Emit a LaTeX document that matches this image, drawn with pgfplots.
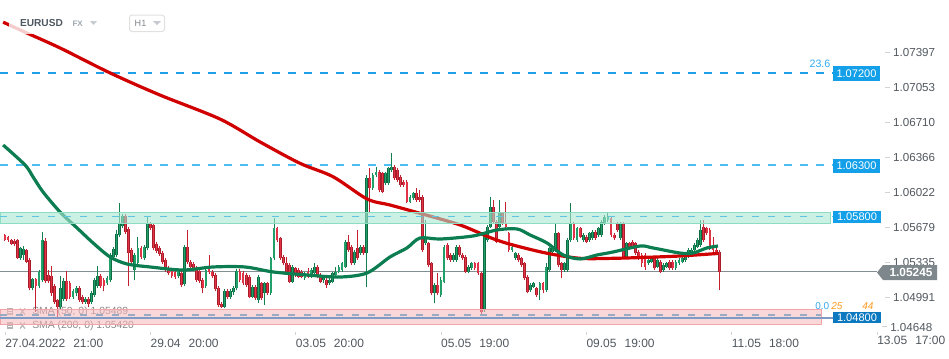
\documentclass[border=0pt]{standalone}
\usepackage{pgfplots}
\pgfplotsset{compat=1.18}
\usepackage{pgfplotstable}
\usepackage{fontspec}
\setmainfont{Liberation Sans}

\definecolor{gwick}{HTML}{12804F}
\definecolor{gedge}{HTML}{0E6B43}
\definecolor{gbody}{HTML}{22A06A}
\definecolor{rwick}{HTML}{C4202F}
\definecolor{redge}{HTML}{A91C2A}
\definecolor{rbody}{HTML}{E23446}
\definecolor{smared}{HTML}{D00000}
\definecolor{smagreen}{HTML}{0B7D50}
\definecolor{lvlblue}{HTML}{1EA0E8}
\definecolor{lvllight}{HTML}{4DBEF2}
\definecolor{tealfill}{HTML}{A8E8D2}
\definecolor{tealedge}{HTML}{8EDCC2}
\definecolor{tealdash}{HTML}{5EC6E4}
\definecolor{pinkfill}{HTML}{F6B8BA}
\definecolor{pinkedge}{HTML}{F2A4A6}
\definecolor{pinkdash}{HTML}{98AAC4}
\definecolor{pinkline}{HTML}{7D9BC4}
\definecolor{pricegray}{HTML}{838E93}
\definecolor{boxblue}{HTML}{14A0E8}
\definecolor{boxdark}{HTML}{0B78BF}
\definecolor{boxgray}{HTML}{7D878C}
\definecolor{labelgray}{HTML}{50575E}
\definecolor{tickgray}{HTML}{D0D4D7}
\definecolor{legendgray}{HTML}{888888}
\definecolor{icongray}{HTML}{B4B4B4}
\definecolor{headgray}{HTML}{4F5961}
\definecolor{fxgray}{HTML}{9FA9B1}
\definecolor{trigray}{HTML}{C5CBD0}
\definecolor{fiborange}{HTML}{FF9A1F}
\definecolor{fibblue}{HTML}{33AAF0}

\newcommand\tk{\textcolor{tickgray}{\rule[2.9pt]{3.75pt}{0.6pt}}\hspace{2.25pt}}

% i open high low close  (bullish candles)
\pgfplotstableread{
i o h l c
5 1.0538 1.0549 1.0536 1.0548
6 1.0541 1.0550 1.0536 1.0547
9 1.0508 1.0518 1.0506 1.0517
11 1.0510 1.0526 1.0508 1.0524
12 1.0516 1.0564 1.0514 1.0556
18 1.0490 1.0520 1.0487 1.0508
19 1.0498 1.0518 1.0496 1.0515
22 1.0500 1.0507 1.0498 1.0505
23 1.0503 1.0510 1.0501 1.0508
26 1.0495 1.0500 1.0493 1.0498
28 1.0495 1.0505 1.0493 1.0503
29 1.0502 1.0518 1.0500 1.0516
30 1.0510 1.0530 1.0508 1.0520
33 1.0513 1.0520 1.0511 1.0518
34 1.0516 1.0543 1.0514 1.0541
35 1.0539 1.0549 1.0537 1.0547
36 1.0541 1.0565 1.0539 1.0562
37 1.0561 1.0592 1.0559 1.0571
38 1.0569 1.0581 1.0567 1.0579
42 1.0526 1.0543 1.0516 1.0541
43 1.0533 1.0559 1.0531 1.0548
45 1.0538 1.0551 1.0536 1.0549
46 1.0548 1.0579 1.0546 1.0571
56 1.0520 1.0527 1.0518 1.0525
58 1.0512 1.0551 1.0510 1.0549
65 1.0510 1.0528 1.0508 1.0526
71 1.0490 1.0507 1.0489 1.0505
73 1.0500 1.0507 1.0498 1.0505
74 1.0504 1.0510 1.0502 1.0508
75 1.0508 1.0527 1.0506 1.0525
80 1.04999 1.05114 1.04983 1.05097
82 1.04966 1.05212 1.04933 1.05196
84 1.05032 1.05147 1.04917 1.05130
86 1.05032 1.05392 1.05015 1.05376
87 1.05376 1.05770 1.05360 1.05671
93 1.05147 1.05310 1.05130 1.05294
97 1.05179 1.05245 1.05163 1.05229
99 1.05196 1.05278 1.05179 1.05261
100 1.05229 1.05327 1.05212 1.05294
103 1.05163 1.05212 1.05130 1.05196
105 1.05130 1.05179 1.05114 1.05163
106 1.05147 1.05245 1.05130 1.05229
107 1.05212 1.05294 1.05196 1.05245
108 1.05245 1.05310 1.05229 1.05294
109 1.05261 1.05343 1.05245 1.05327
110 1.05294 1.05556 1.05278 1.05540
113 1.05327 1.05458 1.05310 1.05442
115 1.05425 1.05507 1.05409 1.05491
117 1.05425 1.06196 1.05097 1.06163
119 1.06065 1.06213 1.06049 1.06196
120 1.06196 1.06278 1.06180 1.06229
123 1.06114 1.06229 1.06098 1.06213
124 1.06114 1.06278 1.06098 1.06262
125 1.06245 1.06409 1.06229 1.06278
131 1.05934 1.06000 1.05917 1.05983
132 1.05967 1.06032 1.05950 1.06016
136 1.05524 1.05753 1.05507 1.05589
139 1.05032 1.05130 1.04933 1.05114
141 1.05015 1.05196 1.04999 1.05163
142 1.05147 1.05507 1.05130 1.05491
145 1.05360 1.05425 1.05343 1.05409
146 1.05360 1.05507 1.05343 1.05491
150 1.05245 1.05310 1.05229 1.05294
151 1.05278 1.05343 1.05261 1.05327
155 1.04868 1.05622 1.04851 1.05606
156 1.05556 1.05704 1.05540 1.05688
157 1.05688 1.05983 1.05671 1.05885
160 1.05688 1.05950 1.05671 1.05819
164 1.05458 1.05524 1.05442 1.05491
165 1.05376 1.05442 1.05360 1.05425
170 1.05065 1.05130 1.05048 1.05114
171 1.05097 1.05147 1.05081 1.05130
173 1.05065 1.05147 1.04966 1.05130
175 1.05065 1.05327 1.05048 1.05294
176 1.05261 1.05491 1.05245 1.05474
177 1.05442 1.05491 1.05425 1.05474
178 1.05458 1.05721 1.05442 1.05622
181 1.05261 1.05343 1.05245 1.05327
182 1.05261 1.05573 1.05245 1.05556
183 1.05556 1.05917 1.05540 1.05721
185 1.05556 1.05688 1.05540 1.05671
187 1.05556 1.05622 1.05540 1.05606
189 1.05556 1.05638 1.05540 1.05622
190 1.05573 1.05655 1.05556 1.05638
192 1.05606 1.05688 1.05589 1.05671
193 1.05606 1.05753 1.05589 1.05737
194 1.05721 1.05802 1.05704 1.05786
195 1.05753 1.05835 1.05737 1.05786
199 1.05573 1.05737 1.05556 1.05721
201 1.05392 1.05540 1.05376 1.05524
208 1.05327 1.05376 1.05310 1.05360
209 1.05343 1.05392 1.05327 1.05376
211 1.05294 1.05376 1.05278 1.05360
213 1.05261 1.05327 1.05245 1.05310
214 1.05294 1.05343 1.05278 1.05327
217 1.05278 1.05360 1.05261 1.05343
218 1.05327 1.05376 1.05310 1.05360
219 1.05343 1.05392 1.05327 1.05376
220 1.05360 1.05425 1.05343 1.05409
221 1.05392 1.05474 1.05376 1.05458
222 1.05425 1.05474 1.05409 1.05458
223 1.05458 1.05524 1.05442 1.05507
224 1.05491 1.05573 1.05474 1.05556
225 1.05507 1.05753 1.05491 1.05655
}\greentab

% i open high low close  (bearish candles)
\pgfplotstableread{
i o h l c
0 1.0561 1.0562 1.0555 1.0556
1 1.0559 1.0560 1.0554 1.0556
2 1.0556 1.0557 1.0551 1.0552
3 1.0555 1.0557 1.0550 1.0552
4 1.0556 1.0557 1.0537 1.0538
7 1.0546 1.0547 1.0533 1.0534
8 1.0536 1.0538 1.0506 1.0508
10 1.0517 1.0518 1.0485 1.0510
13 1.0555 1.0558 1.0513 1.0515
14 1.0521 1.0526 1.0513 1.0515
15 1.0520 1.0530 1.0501 1.0503
16 1.0510 1.0512 1.0493 1.0495
17 1.0497 1.0498 1.0479 1.0490
20 1.0515 1.0525 1.0496 1.0498
21 1.0513 1.0515 1.0498 1.0500
24 1.0508 1.0510 1.0495 1.0497
25 1.0500 1.0502 1.0493 1.0495
27 1.0498 1.0500 1.0490 1.0493
31 1.0520 1.0522 1.0508 1.0510
32 1.0516 1.0518 1.0505 1.0510
39 1.0579 1.0581 1.0562 1.0564
40 1.0566 1.0568 1.0510 1.0543
41 1.0546 1.0548 1.0532 1.0534
44 1.0548 1.0550 1.0537 1.0539
47 1.0571 1.0573 1.0565 1.0567
48 1.0570 1.0572 1.0546 1.0548
49 1.0552 1.0554 1.0543 1.0545
50 1.0548 1.0550 1.0540 1.0542
51 1.0543 1.0545 1.0532 1.0534
52 1.0536 1.0538 1.0524 1.0526
53 1.0528 1.0530 1.0521 1.0523
54 1.0525 1.0527 1.0518 1.0520
55 1.0524 1.0526 1.0517 1.0519
57 1.0523 1.0525 1.0509 1.0511
59 1.0549 1.0565 1.0532 1.0534
60 1.0534 1.0536 1.0527 1.0529
61 1.0532 1.0534 1.0525 1.0527
62 1.0528 1.0530 1.0514 1.0516
63 1.0525 1.0527 1.0513 1.0515
64 1.0516 1.0518 1.0503 1.0508
66 1.0527 1.0541 1.0522 1.0524
67 1.0524 1.0526 1.0518 1.0520
68 1.0521 1.0523 1.0505 1.0507
69 1.0508 1.0510 1.0490 1.0492
70 1.0493 1.0495 1.0489 1.0490
72 1.0505 1.0507 1.0498 1.0500
76 1.0525 1.0527 1.0514 1.0516
77 1.0523 1.0525 1.0511 1.0513
78 1.05212 1.05229 1.05097 1.05114
79 1.05196 1.05212 1.04983 1.04999
81 1.05097 1.05114 1.04966 1.04983
83 1.05130 1.05147 1.04966 1.04983
85 1.05130 1.05147 1.05015 1.05032
88 1.05671 1.05688 1.05540 1.05556
89 1.05573 1.05589 1.05360 1.05376
90 1.05392 1.05409 1.05310 1.05327
91 1.05327 1.05392 1.05229 1.05245
92 1.05310 1.05327 1.05130 1.05147
94 1.05278 1.05294 1.05196 1.05212
95 1.05261 1.05278 1.05179 1.05196
96 1.05245 1.05261 1.05179 1.05196
98 1.05245 1.05278 1.05179 1.05196
101 1.05294 1.05310 1.05179 1.05196
102 1.05212 1.05229 1.05130 1.05147
104 1.05163 1.05179 1.05081 1.05114
111 1.05540 1.05606 1.05442 1.05458
112 1.05491 1.05507 1.05310 1.05327
114 1.05474 1.05655 1.05360 1.05376
116 1.05491 1.05507 1.05409 1.05425
118 1.06163 1.06262 1.05819 1.06065
121 1.06229 1.06245 1.06032 1.06049
122 1.06213 1.06229 1.06016 1.06032
126 1.06278 1.06295 1.06147 1.06163
127 1.06245 1.06262 1.06131 1.06147
128 1.06180 1.06196 1.06082 1.06098
129 1.06131 1.06147 1.06082 1.06098
130 1.06131 1.06147 1.05917 1.05934
133 1.06016 1.06065 1.05934 1.05950
134 1.05983 1.06049 1.05934 1.05950
135 1.05983 1.06000 1.05442 1.05458
137 1.05524 1.05540 1.05294 1.05310
138 1.05327 1.05343 1.05015 1.05032
140 1.05114 1.05229 1.05015 1.05032
143 1.05507 1.05524 1.05360 1.05376
144 1.05409 1.05425 1.05343 1.05360
147 1.05491 1.05507 1.05392 1.05409
148 1.05409 1.05425 1.05360 1.05376
149 1.05392 1.05409 1.05229 1.05245
152 1.05327 1.05343 1.05261 1.05278
153 1.05327 1.05343 1.05212 1.05229
154 1.05229 1.05245 1.04819 1.04851
158 1.05885 1.05950 1.05721 1.05737
159 1.05737 1.05753 1.05524 1.05540
161 1.05819 1.05835 1.05704 1.05721
162 1.05721 1.05934 1.05671 1.05688
163 1.05622 1.05638 1.05442 1.05458
166 1.05409 1.05425 1.05343 1.05360
167 1.05376 1.05392 1.05294 1.05310
168 1.05327 1.05343 1.05163 1.05179
169 1.05196 1.05212 1.05032 1.05048
172 1.05081 1.05097 1.04999 1.05015
174 1.05130 1.05147 1.05032 1.05065
179 1.05622 1.05638 1.05294 1.05310
180 1.05327 1.05343 1.05179 1.05261
184 1.05721 1.05737 1.05556 1.05573
186 1.05671 1.05688 1.05573 1.05589
188 1.05589 1.05606 1.05524 1.05540
191 1.05638 1.05655 1.05556 1.05573
196 1.05770 1.05786 1.05589 1.05606
197 1.05606 1.05622 1.05556 1.05573
198 1.05721 1.05737 1.05638 1.05655
200 1.05721 1.05737 1.05376 1.05392
202 1.05524 1.05540 1.05474 1.05491
203 1.05540 1.05556 1.05474 1.05491
204 1.05524 1.05540 1.05409 1.05425
205 1.05442 1.05458 1.05360 1.05376
206 1.05409 1.05425 1.05294 1.05327
207 1.05409 1.05425 1.05261 1.05294
210 1.05376 1.05392 1.05261 1.05278
212 1.05343 1.05360 1.05229 1.05245
215 1.05343 1.05360 1.05261 1.05278
216 1.05343 1.05360 1.05261 1.05278
226 1.05688 1.05753 1.05540 1.05556
227 1.05671 1.05688 1.05606 1.05622
228 1.05655 1.05671 1.05458 1.05474
229 1.05474 1.05589 1.05442 1.05458
230 1.05458 1.05474 1.05425 1.05442
231 1.05442 1.05458 1.05065 1.05245
}\redtab

\begin{document}
\begin{tikzpicture}
\useasboundingbox (0,0) rectangle (711.75pt,-268.5pt);
% legend texts (drawn below the zones)
\begin{scope}[x=0.75pt,y=-0.75pt]
\fill[icongray] (7,308) rectangle (13,315);
\draw[white,line width=0.4pt] (8,310.3)--(12,310.3) (8,312.6)--(12,312.6);
\draw[icongray,line width=0.9pt] (20,308.5)--(25,314.5) (20,314.5)--(25,308.5);
\node[anchor=west,inner sep=0pt,font=\fontsize{7.8}{9}\selectfont,text=legendgray] at (32,312) {SMA (50, 0) 1.05489};
\fill[icongray] (7,322) rectangle (13,329);
\draw[white,line width=0.4pt] (8,324.3)--(12,324.3) (8,326.6)--(12,326.6);
\draw[icongray,line width=0.9pt] (20,322.5)--(25,328.5) (20,328.5)--(25,322.5);
\node[anchor=west,inner sep=0pt,font=\fontsize{7.8}{9}\selectfont,text=legendgray] at (32,326) {SMA (200, 0) 1.05420};
\end{scope}
\begin{axis}[
  at={(0,0)}, anchor=north west,
  scale only axis, width=622.5pt, height=249pt,
  xmin=-1.617, xmax=266.82, ymin=1.04651, ymax=1.07918,
  clip=false,
  axis line style={draw=none},
  scaled x ticks=false, scaled y ticks=false,
  xtick={0,47,94,141,188,235},
  xticklabels={{27.04.2022\hspace{6pt}21:00},{29.04\hspace{6pt}20:00},{03.05\hspace{6pt}20:00},{05.05\hspace{6pt}19:00},{09.05\hspace{6pt}19:00},{11.05\hspace{6pt}18:00}},
  xtick pos=bottom,
  tick align=outside,
  major tick length=2.2pt,
  xtick style={draw=tickgray, line width=0.6pt},
  xticklabel style={anchor=north west, inner sep=0pt, yshift=-2.6pt, font=\fontsize{9}{10}\selectfont, text=labelgray},
  ytick={1.07397,1.07053,1.06710,1.06366,1.06022,1.05679,1.05335,1.04991},
  yticklabels={{\tk 1.07397},{\tk 1.07053},{\tk 1.06710},{\tk 1.06366},{\tk 1.06022},{\tk 1.05679},{\tk 1.05335},{\tk 1.04991}},
  yticklabel pos=right,
  ytick style={draw=none},
  yticklabel style={anchor=west, inner sep=0pt, xshift=39pt, font=\fontsize{8.7}{10}\selectfont, text=labelgray},
]
% price levels
\addplot[lvlblue, line width=1.5pt, dash pattern=on 6pt off 6pt] coordinates {(-1.617,1.07195) (267.8,1.07195)};
\addplot[lvllight, line width=1.5pt, dash pattern=on 6pt off 6pt] coordinates {(-1.617,1.06290) (267.8,1.06290)};
\addplot[pricegray, line width=0.9pt] coordinates {(-1.617,1.05245) (282.0,1.05245)};
% candles: wicks and bodies
\addplot[draw=gwick, line width=0.75pt, quiver={u=0, v=\thisrow{h}-\thisrow{l}}] table[x=i, y=l] {\greentab};
\addplot[draw=rwick, line width=0.75pt, quiver={u=0, v=\thisrow{h}-\thisrow{l}}] table[x=i, y=l] {\redtab};
\addplot[draw=gedge, line width=2.1pt, quiver={u=0, v=\thisrow{c}-\thisrow{o}}] table[x=i, y=o] {\greentab};
\addplot[draw=gbody, line width=1.0pt, quiver={u=0, v=\thisrow{c}-\thisrow{o}}] table[x=i, y=o] {\greentab};
\addplot[draw=redge, line width=2.1pt, quiver={u=0, v=\thisrow{o}-\thisrow{c}}] table[x=i, y=c] {\redtab};
\addplot[draw=rbody, line width=1.0pt, quiver={u=0, v=\thisrow{o}-\thisrow{c}}] table[x=i, y=c] {\redtab};
% SMA 200
\addplot[smared, line width=2.4pt, smooth, line join=round] coordinates {
(-0.6,1.07700) (7.1,1.07593) (17.8,1.07446) (34.0,1.07200) (50.1,1.06983) (69.5,1.06747)
(82.5,1.06521) (95.4,1.06311) (106.1,1.06179) (117.1,1.05960) (124.5,1.05901) (134.2,1.05819)
(147.2,1.05704) (157.5,1.05573) (164.3,1.05507) (175.3,1.05426) (186.0,1.05376) (196.6,1.05376)
(207.6,1.05386) (218.3,1.05399) (230.6,1.05424)};
% SMA 50
\addplot[smagreen, line width=2.4pt, smooth, line join=round] coordinates {
(-0.6,1.06491) (6.5,1.06294) (9.1,1.06176) (12.3,1.06029) (17.8,1.05832) (23.3,1.05675)
(28.5,1.05527) (34.0,1.05389) (39.5,1.05320) (46.9,1.05291) (57.6,1.05261) (67.3,1.05291)
(77.6,1.05291) (86.7,1.05242) (97.7,1.05212) (108.3,1.05192) (117.1,1.05232) (124.5,1.05389)
(130.0,1.05478) (134.2,1.05576) (140.7,1.05566) (151.4,1.05596) (159.1,1.05655) (165.6,1.05665)
(169.8,1.05606) (175.3,1.05527) (180.5,1.05409) (186.0,1.05370) (191.5,1.05409) (196.6,1.05438)
(205.4,1.05497) (209.6,1.05478) (218.3,1.05428) (222.5,1.05428) (227.0,1.05478) (230.6,1.05497)};
% zones
\addplot[fill=tealfill, fill opacity=0.6, draw=tealedge, line width=0.6pt] coordinates {(-1.617,1.05832) (266.82,1.05832) (266.82,1.05724) (-1.617,1.05724)} -- cycle;
\addplot[tealdash, line width=1.1pt, dash pattern=on 5.5pt off 6.5pt] coordinates {(-1.617,1.05785) (267.8,1.05785)};
\addplot[fill=pinkfill, fill opacity=0.55, draw=pinkedge, line width=0.6pt] coordinates {(-1.617,1.04878) (263.9,1.04878) (263.9,1.04730) (-1.617,1.04730)} -- cycle;
\addplot[pinkdash, line width=1.0pt, dash pattern=on 5.5pt off 6.5pt] coordinates {(-1.617,1.04818) (263.9,1.04818)};
\addplot[pinkline, line width=0.9pt] coordinates {(-1.617,1.04789) (267.8,1.04789)};
\end{axis}
\begin{scope}[x=0.75pt,y=-0.75pt]
% header
\fill[white,opacity=0.8] (9,12) rectangle (105,34);
\node[font=\fontsize{7.6}{9}\selectfont\bfseries,text=headgray,inner sep=0pt] at (41.5,23.5) {EURUSD};
\node[font=\fontsize{6}{7}\selectfont\bfseries,text=fxgray,inner sep=0pt] at (77.7,24) {FX};
\fill[trigray] (90,21)--(97,21)--(93.5,25)--cycle;
\draw[draw=black!12,line width=0.75pt,rounded corners=2pt] (129.5,15) rectangle (164.5,31.5);
\node[font=\fontsize{6.8}{8}\selectfont,text=fxgray!80!black,inner sep=0pt] at (140.5,23.5) {H1};
\fill[trigray] (153,21)--(161,21)--(157,25)--cycle;
% fib labels
\node[font=\fontsize{8}{9}\selectfont,text=fibblue,inner sep=0pt] at (820,64) {23.6};
\node[anchor=east,font=\fontsize{7.5}{9}\selectfont,text=fibblue,inner sep=0pt] at (829.5,306.5) {0.0};
\node[anchor=west,font=\fontsize{7.5}{9}\selectfont\itshape,text=fiborange,inner sep=0pt] at (831,306.5) {25};
\node[anchor=west,font=\fontsize{7.5}{9}\selectfont\itshape,text=fiborange,inner sep=0pt] at (862,306.5) {44};
% level boxes
\fill[boxblue] (833,66) rectangle (880,81);
\node[font=\fontsize{8.3}{9}\selectfont,text=white,inner sep=0pt] at (856.5,73.5) {1.07200};
\fill[boxblue] (833,159) rectangle (880,173);
\node[font=\fontsize{8.3}{9}\selectfont,text=white,inner sep=0pt] at (856.5,166) {1.06300};
\fill[boxblue] (833,211) rectangle (881,223);
\node[font=\fontsize{8.3}{9}\selectfont,text=white,inner sep=0pt] at (857,217) {1.05800};
\fill[boxdark] (833,312) rectangle (881,323);
\node[font=\fontsize{8.3}{9}\selectfont,text=white,inner sep=0pt] at (857,317.5) {1.04800};
\fill[boxgray] (877,272.5)--(883,265)--(937,265)--(937,280)--(883,280)--cycle;
\node[font=\fontsize{8.9}{10}\selectfont\bfseries,text=white,inner sep=0pt] at (911,272.5) {1.05245};
% axis texts beyond the plot area
\node[anchor=west,inner sep=0pt,font=\fontsize{8.7}{10}\selectfont,text=labelgray] at (882,327) {\tk 1.04648};
\draw[tickgray,line width=0.6pt] (877,332)--(877,335);
\node[anchor=north west,inner sep=0pt,font=\fontsize{9}{10}\selectfont,text=labelgray] at (877,335.5) {13.05\hspace{6pt}17:00};
\end{scope}
\end{tikzpicture}
\end{document}
